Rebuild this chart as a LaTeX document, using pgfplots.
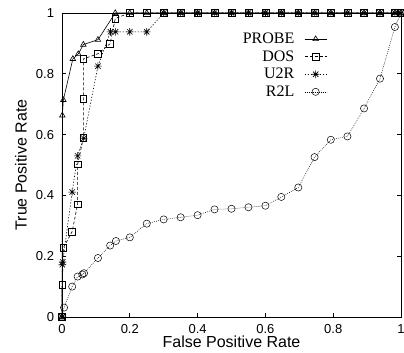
\documentclass[border=0pt]{standalone}
\usepackage{pgfplots}
\pgfplotsset{compat=1.18}
\usepackage{fontspec}
\setmainfont{Liberation Serif}
\setsansfont{Liberation Sans}
\pgfdeclareplotmark{gpstar}{%
  \pgfpathmoveto{\pgfqpoint{-\pgfplotmarksize}{0pt}}\pgfpathlineto{\pgfqpoint{\pgfplotmarksize}{0pt}}%
  \pgfpathmoveto{\pgfqpoint{0pt}{-\pgfplotmarksize}}\pgfpathlineto{\pgfqpoint{0pt}{\pgfplotmarksize}}%
  \pgfpathmoveto{\pgfqpoint{-0.707\pgfplotmarksize}{-0.707\pgfplotmarksize}}\pgfpathlineto{\pgfqpoint{0.707\pgfplotmarksize}{0.707\pgfplotmarksize}}%
  \pgfpathmoveto{\pgfqpoint{-0.707\pgfplotmarksize}{0.707\pgfplotmarksize}}\pgfpathlineto{\pgfqpoint{0.707\pgfplotmarksize}{-0.707\pgfplotmarksize}}%
  \pgfusepathqstroke}
\begin{document}
\begin{tikzpicture}
\begin{axis}[name=ax,
  width=339pt, height=304pt, scale only axis,
  xmin=0, xmax=1, ymin=0, ymax=1,
  xtick={0,0.2,0.4,0.6,0.8,1}, ytick={0,0.2,0.4,0.6,0.8,1},
  xticklabels={0,0.2,0.4,0.6,0.8,1}, yticklabels={0,0.2,0.4,0.6,0.8,1},
  tick align=inside, major tick length=4pt,
  axis line style={line width=0.8pt}, every tick/.style={black, line width=0.6pt},
  tick label style={font=\sffamily\fontsize{13}{15}\selectfont},
  xticklabel style={yshift=-4pt},
  yticklabel style={xshift=-4.4pt},
  label style={font=\sffamily\fontsize{16}{19}\selectfont},
  xlabel={False Positive Rate}, ylabel={True Positive Rate},
  xlabel style={at={(axis description cs:0.5,0)}, yshift=-25pt, anchor=center},
  ylabel style={at={(axis description cs:-0.121,0.5)}, anchor=center},
  clip=false,
  legend plot pos=right,
  legend cell align=right,
  legend style={at={(0.791,0.948)}, anchor=north east, draw=none, fill=none,
    font=\rmfamily\fontsize{16}{19}\selectfont, row sep=1.5pt, column sep=8pt},
  legend image code/.code={\draw[mark repeat=2,mark phase=2,#1] plot coordinates {(0pt,0pt) (11pt,0pt) (22pt,0pt)};},
]
\addplot[black, line width=0.6pt, mark=triangle, mark size=3.2pt, mark options={solid}] table {
x y
0 0
0.001 0.663
0.004 0.714
0.032 0.849
0.048 0.865
0.063 0.896
0.106 0.912
0.157 1.0
0.2 1
0.25 1
0.3 1
0.35 1
0.4 1
0.45 1
0.5 1
0.55 1
0.6 1
0.647 1
0.697 1
0.745 1
0.793 1
0.842 1
0.891 1
0.938 1
0.982 1
1 1
};
\addlegendentry{PROBE}
\addplot[black, line width=0.6pt, dash pattern=on 3pt off 2pt, mark=square, mark size=3.4pt, mark options={solid}] table {
x y
0 0
0.001 0.107
0.004 0.228
0.030 0.281
0.046 0.371
0.046 0.502
0.063 0.589
0.063 0.718
0.063 0.849
0.106 0.866
0.142 0.899
0.157 0.982
0.2 1
0.25 1
0.3 1
0.35 1
0.4 1
0.45 1
0.5 1
0.55 1
0.6 1
0.647 1
0.697 1
0.745 1
0.793 1
0.842 1
0.891 1
0.938 1
0.982 1
1 1
};
\addlegendentry{DOS}
\addplot[black, line width=0.6pt, dash pattern=on 1.2pt off 1.8pt, mark=gpstar, mark size=3.8pt, mark options={solid}] table {
x y
0 0
0.001 0.172
0.002 0.181
0.030 0.411
0.046 0.530
0.064 0.588
0.106 0.825
0.143 0.938
0.158 0.938
0.2 0.938
0.25 0.938
0.3 1
0.35 1
0.4 1
0.45 1
0.5 1
0.55 1
0.6 1
0.647 1
0.697 1
0.745 1
0.793 1
0.842 1
0.891 1
0.938 1
0.982 1
1 1
};
\addlegendentry{U2R}
\addplot[black, line width=0.5pt, dash pattern=on 0.8pt off 1.2pt, mark=o, mark size=3.6pt, mark options={solid}] table {
x y
0 0
0.006 0.031
0.030 0.100
0.046 0.133
0.060 0.140
0.065 0.144
0.106 0.194
0.142 0.235
0.159 0.250
0.200 0.262
0.250 0.307
0.300 0.321
0.350 0.328
0.400 0.335
0.450 0.354
0.500 0.356
0.550 0.361
0.600 0.366
0.647 0.395
0.697 0.426
0.745 0.526
0.793 0.583
0.842 0.594
0.891 0.686
0.938 0.784
0.982 0.954
1 1
};
\addlegendentry{R2L}
\end{axis}
\pgfresetboundingbox
\path (ax.south west) ++(-62pt,-36pt) coordinate (bl);
\path (ax.north east) ++(3pt,13pt) coordinate (tr);
\useasboundingbox (bl) rectangle (tr);
\end{tikzpicture}
\end{document}
